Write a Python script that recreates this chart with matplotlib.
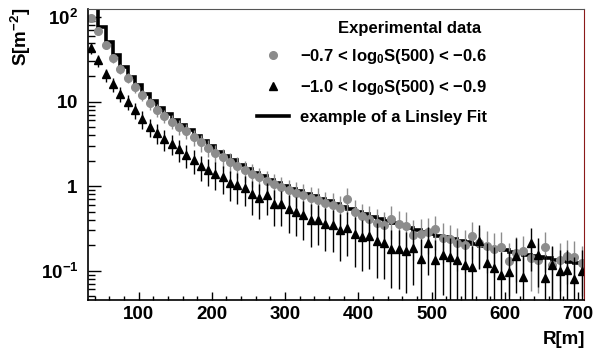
import numpy as np
import matplotlib
matplotlib.use("Agg")
import matplotlib.pyplot as plt
from matplotlib.ticker import FixedLocator, LogLocator, NullFormatter

plt.rcParams['font.family'] = ['Liberation Sans', 'DejaVu Sans']
plt.rcParams['font.weight'] = 'bold'
plt.rcParams['mathtext.fontset'] = 'custom'
plt.rcParams['mathtext.rm'] = 'Liberation Sans:bold'
plt.rcParams['mathtext.bf'] = 'Liberation Sans:bold'
plt.rcParams['mathtext.it'] = 'Liberation Sans:bold'
plt.rcParams['mathtext.default'] = 'rm'

# bin centres in metres (10 m bins)
r = np.arange(35, 715, 10)

# -0.7 < log10 S(500) < -0.6  (grey circles)
s_grey = [96.5, 68, 46.6, 32.5, 24.7, 19.2, 15.0, 12.0, 9.6, 8.0,
          6.8, 5.8, 5.0, 4.5, 3.8, 3.3, 2.85, 2.5, 2.2, 1.95,
          1.72, 1.55, 1.40, 1.27, 1.15, 1.05, 0.97, 0.90, 0.84, 0.78,
          0.73, 0.69, 0.63, 0.60, 0.55, 0.71, 0.49, 0.44, 0.41, 0.37,
          0.345, 0.41, 0.36, 0.34, 0.263, 0.275, 0.288, 0.31, 0.245, 0.234,
          0.21, 0.20, 0.256, 0.215, 0.195, 0.18, 0.19, 0.13, 0.163, 0.17,
          0.14, 0.133, 0.19, 0.116, 0.135, 0.15, 0.147, 0.123]
e_grey = [9.1, 6.8, 5.1, 3.9, 3.2, 2.6, 2.2, 1.86, 1.59, 1.39,
          1.23, 1.10, 0.99, 0.91, 0.81, 0.73, 0.66, 0.61, 0.56, 0.51,
          0.47, 0.44, 0.41, 0.38, 0.36, 0.33, 0.32, 0.30, 0.28, 0.27,
          0.26, 0.25, 0.23, 0.22, 0.21, 0.24, 0.19, 0.18, 0.17, 0.16,
          0.155, 0.17, 0.155, 0.15, 0.13, 0.13, 0.13, 0.135, 0.12, 0.115,
          0.11, 0.105, 0.12, 0.107, 0.10, 0.096, 0.098, 0.08, 0.09, 0.09,
          0.082, 0.079, 0.094, 0.073, 0.078, 0.081, 0.08, 0.073]

# -1.0 < log10 S(500) < -0.9  (black triangles)
s_tri = [43.3, 31, 21, 16.1, 12.5, 9.95, 7.93, 6.21, 5.03, 4.27,
         3.6, 3.2, 2.74, 2.33, 2.03, 1.72, 1.55, 1.41, 1.27, 1.09,
         1.02, 0.95, 0.80, 0.73, 0.78, 0.62, 0.61, 0.53, 0.50, 0.45,
         0.40, 0.40, 0.36, 0.345, 0.30, 0.32, 0.27, 0.25, 0.256, 0.223,
         0.21, 0.183, 0.18, 0.17, 0.188, 0.139, 0.21, 0.133, 0.152, 0.145,
         0.135, 0.116, 0.11, 0.225, 0.122, 0.109, 0.09, 0.096, 0.149, 0.085,
         0.21, 0.155, 0.081, 0.116, 0.10, 0.102, 0.08, 0.10]
e_tri = [6.7, 5.0, 3.7, 3.0, 2.45, 2.05, 1.73, 1.46, 1.25, 1.11,
         0.98, 0.89, 0.80, 0.71, 0.65, 0.58, 0.54, 0.50, 0.46, 0.42,
         0.40, 0.37, 0.34, 0.32, 0.32, 0.28, 0.27, 0.25, 0.24, 0.22,
         0.21, 0.20, 0.19, 0.18, 0.17, 0.17, 0.16, 0.15, 0.15, 0.14,
         0.13, 0.12, 0.12, 0.115, 0.12, 0.10, 0.12, 0.10, 0.10, 0.10,
         0.095, 0.09, 0.085, 0.12, 0.09, 0.08, 0.075, 0.075, 0.095, 0.07,
         0.11, 0.09, 0.07, 0.08, 0.075, 0.075, 0.065, 0.075]

# Linsley fit, one value per bin
s_fit = [132, 76.7, 51.1, 35.5, 25.8, 19.7, 15.7, 12.5, 10.1, 8.41,
         7.08, 6.05, 5.25, 4.62, 3.98, 3.47, 2.95, 2.57, 2.29, 2.04,
         1.80, 1.60, 1.45, 1.32, 1.20, 1.10, 1.01, 0.933, 0.871, 0.813,
         0.759, 0.708, 0.661, 0.617, 0.575, 0.537, 0.501, 0.468, 0.437, 0.412,
         0.389, 0.363, 0.343, 0.324, 0.305, 0.288, 0.275, 0.260, 0.248, 0.237,
         0.226, 0.216, 0.207, 0.197, 0.188, 0.182, 0.174, 0.168, 0.160, 0.155,
         0.150, 0.145, 0.140, 0.135, 0.130, 0.126, 0.122, 0.117]

x_ticks = [100, 200, 300, 400, 500, 600, 700]
y_ticks = [0.1, 1, 10, 100]
y_tick_labels = ['$10^{-1}$', '$1$', '$10$', '$10^{2}$']

fig = plt.figure(figsize=(5.95, 3.51), dpi=100)
ax = fig.add_axes([88 / 595, 1 - 300 / 351, 496 / 595, 291 / 351])

grey = '#8c8c8c'
ax.errorbar(r, s_grey, yerr=e_grey, fmt='none', ecolor=grey, elinewidth=1.0, capsize=0)
h_grey, = ax.plot(r, s_grey, 'o', color=grey, markersize=5.5, linestyle='none')
ax.errorbar(r, s_tri, yerr=e_tri, fmt='none', ecolor='black', elinewidth=1.0, capsize=0)
h_tri, = ax.plot(r, s_tri, '^', color='black', markersize=6, linestyle='none')
edges = np.append(r, r[-1] + 10)
h_fit = ax.stairs(s_fit, edges, color='black', linewidth=2.6, baseline=None)

ax.set_yscale('log')
ax.set_xlim(31, 708)
ax.set_ylim(0.045, 125)

ax.xaxis.set_major_locator(FixedLocator(x_ticks))
ax.xaxis.set_minor_locator(FixedLocator(list(range(40, 710, 20))))
ax.set_xticklabels([str(t) for t in x_ticks])
ax.yaxis.set_major_locator(FixedLocator(y_ticks))
ax.set_yticklabels(y_tick_labels)
ax.yaxis.set_minor_locator(LogLocator(base=10, subs=np.arange(2, 10)))
ax.yaxis.set_minor_formatter(NullFormatter())

ax.tick_params(axis='x', which='major', direction='in', length=6, width=1, labelsize=13.5, pad=4)
ax.tick_params(axis='x', which='minor', direction='in', length=3, width=1)
ax.tick_params(axis='y', which='major', direction='in', length=9.5, width=1, labelsize=13.5, pad=7)
ax.tick_params(axis='y', which='minor', direction='in', length=5, width=1)

ax.spines['top'].set_color('#555555')
ax.spines['right'].set_color('#8b1a1a')
for s in ['left', 'bottom']:
    ax.spines[s].set_linewidth(1.2)

labels = ['\u22120.7 < log$_{0}$S(500) < \u22120.6',
          '\u22121.0 < log$_{0}$S(500) < \u22120.9',
          'example of a Linsley Fit']
ax.legend([h_grey, h_tri, h_fit], labels, loc='upper left', bbox_to_anchor=(0.341, 0.87),
          frameon=False, fontsize=12, borderpad=0, borderaxespad=0, handlelength=1.9,
          handletextpad=0.7, labelspacing=0.75, numpoints=1)
fig.text(410 / 595, 1 - 28 / 351, 'Experimental data', ha='center', va='center',
         fontsize=12, fontweight='bold')

fig.text(21 / 595, 1 - 8 / 351, 'S[m$^{-2}$]', rotation=90, ha='center', va='top',
         fontsize=13.5, fontweight='bold')
fig.text(585 / 595, 1 - 339 / 351, 'R[m]', ha='right', va='center',
         fontsize=13.5, fontweight='bold')

fig.savefig('out.png', dpi=100)
